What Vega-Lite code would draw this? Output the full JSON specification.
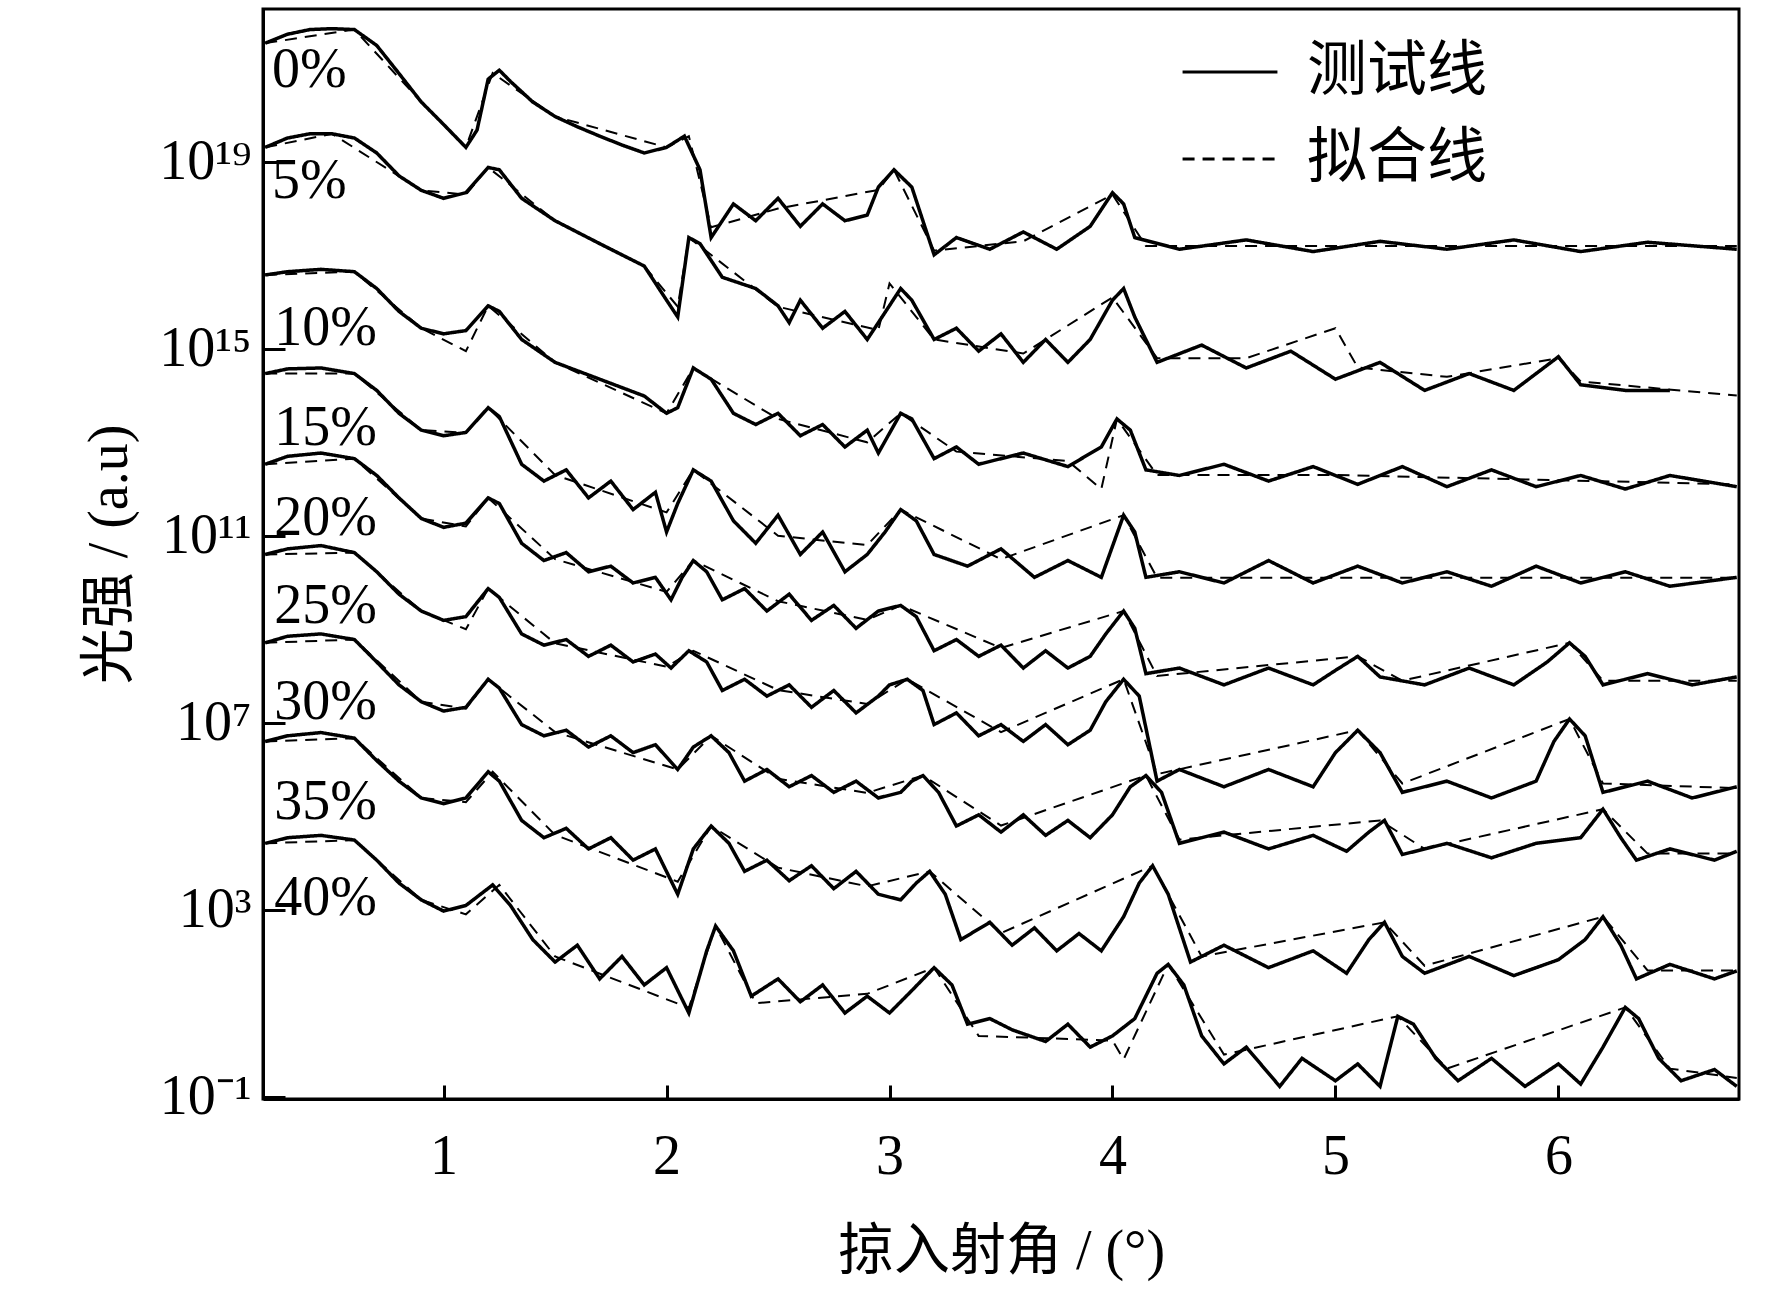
{
  "$schema": "https://vega.github.io/schema/vega-lite/v6.json",
  "width": 1476,
  "height": 1090,
  "autosize": "none",
  "padding": {"left": 263, "top": 9, "right": 33, "bottom": 200},
  "background": "white",
  "datasets": {
    "m": [
      {"c":0,"x":0.2,"e":21.54},{"c":0,"x":0.3,"e":21.73},{"c":0,"x":0.4,"e":21.83},{"c":0,"x":0.5,"e":21.85},{"c":0,"x":0.6,"e":21.83},{"c":0,"x":0.7,"e":21.49},{"c":0,"x":0.8,"e":20.89},{"c":0,"x":0.9,"e":20.28},{"c":0,"x":1.0,"e":19.8},{"c":0,"x":1.1,"e":19.31},{"c":0,"x":1.15,"e":19.68},{"c":0,"x":1.2,"e":20.77},{"c":0,"x":1.25,"e":20.96},{"c":0,"x":1.3,"e":20.72},{"c":0,"x":1.4,"e":20.28},{"c":0,"x":1.5,"e":19.97},{"c":0,"x":1.6,"e":19.75},{"c":0,"x":1.7,"e":19.55},{"c":0,"x":1.8,"e":19.36},{"c":0,"x":1.9,"e":19.19},{"c":0,"x":2.0,"e":19.31},{"c":0,"x":2.08,"e":19.55},{"c":0,"x":2.15,"e":18.83},{"c":0,"x":2.2,"e":17.38},{"c":0,"x":2.3,"e":18.1},{"c":0,"x":2.4,"e":17.74},{"c":0,"x":2.5,"e":18.22},{"c":0,"x":2.6,"e":17.62},{"c":0,"x":2.7,"e":18.1},{"c":0,"x":2.8,"e":17.74},{"c":0,"x":2.9,"e":17.86},{"c":0,"x":2.95,"e":18.46},{"c":0,"x":3.02,"e":18.83},{"c":0,"x":3.1,"e":18.46},{"c":0,"x":3.2,"e":17.01},{"c":0,"x":3.3,"e":17.38},{"c":0,"x":3.45,"e":17.13},{"c":0,"x":3.6,"e":17.5},{"c":0,"x":3.75,"e":17.13},{"c":0,"x":3.9,"e":17.62},{"c":0,"x":4.0,"e":18.34},{"c":0,"x":4.05,"e":18.1},{"c":0,"x":4.1,"e":17.38},{"c":0,"x":4.3,"e":17.13},{"c":0,"x":4.6,"e":17.33},{"c":0,"x":4.9,"e":17.08},{"c":0,"x":5.2,"e":17.3},{"c":0,"x":5.5,"e":17.13},{"c":0,"x":5.8,"e":17.33},{"c":0,"x":6.1,"e":17.08},{"c":0,"x":6.4,"e":17.28},{"c":0,"x":6.8,"e":17.13},

      {"c":5,"x":0.2,"e":19.31},{"c":5,"x":0.3,"e":19.51},{"c":5,"x":0.4,"e":19.6},{"c":5,"x":0.5,"e":19.6},{"c":5,"x":0.6,"e":19.51},{"c":5,"x":0.7,"e":19.19},{"c":5,"x":0.8,"e":18.7},{"c":5,"x":0.9,"e":18.39},{"c":5,"x":1.0,"e":18.22},{"c":5,"x":1.1,"e":18.34},{"c":5,"x":1.2,"e":18.88},{"c":5,"x":1.25,"e":18.83},{"c":5,"x":1.35,"e":18.22},{"c":5,"x":1.5,"e":17.74},{"c":5,"x":1.7,"e":17.25},{"c":5,"x":1.9,"e":16.77},{"c":5,"x":2.0,"e":16.04},{"c":5,"x":2.05,"e":15.68},{"c":5,"x":2.1,"e":17.38},{"c":5,"x":2.15,"e":17.25},{"c":5,"x":2.25,"e":16.53},{"c":5,"x":2.4,"e":16.29},{"c":5,"x":2.5,"e":15.92},{"c":5,"x":2.55,"e":15.56},{"c":5,"x":2.6,"e":16.04},{"c":5,"x":2.7,"e":15.44},{"c":5,"x":2.8,"e":15.8},{"c":5,"x":2.9,"e":15.2},{"c":5,"x":2.95,"e":15.56},{"c":5,"x":3.05,"e":16.29},{"c":5,"x":3.1,"e":16.04},{"c":5,"x":3.2,"e":15.2},{"c":5,"x":3.3,"e":15.44},{"c":5,"x":3.4,"e":14.95},{"c":5,"x":3.5,"e":15.32},{"c":5,"x":3.6,"e":14.71},{"c":5,"x":3.7,"e":15.2},{"c":5,"x":3.8,"e":14.71},{"c":5,"x":3.9,"e":15.2},{"c":5,"x":4.0,"e":16.04},{"c":5,"x":4.05,"e":16.29},{"c":5,"x":4.1,"e":15.68},{"c":5,"x":4.2,"e":14.71},{"c":5,"x":4.4,"e":15.08},{"c":5,"x":4.6,"e":14.59},{"c":5,"x":4.8,"e":14.95},{"c":5,"x":5.0,"e":14.35},{"c":5,"x":5.2,"e":14.71},{"c":5,"x":5.4,"e":14.11},{"c":5,"x":5.6,"e":14.47},{"c":5,"x":5.8,"e":14.11},{"c":5,"x":6.0,"e":14.83},{"c":5,"x":6.1,"e":14.23},{"c":5,"x":6.3,"e":14.11},{"c":5,"x":6.5,"e":14.11},

      {"c":10,"x":0.2,"e":16.58},{"c":10,"x":0.3,"e":16.65},{"c":10,"x":0.45,"e":16.7},{"c":10,"x":0.6,"e":16.65},{"c":10,"x":0.7,"e":16.29},{"c":10,"x":0.8,"e":15.8},{"c":10,"x":0.9,"e":15.44},{"c":10,"x":1.0,"e":15.32},{"c":10,"x":1.1,"e":15.39},{"c":10,"x":1.2,"e":15.92},{"c":10,"x":1.25,"e":15.8},{"c":10,"x":1.35,"e":15.2},{"c":10,"x":1.5,"e":14.71},{"c":10,"x":1.7,"e":14.35},{"c":10,"x":1.9,"e":13.99},{"c":10,"x":2.0,"e":13.62},{"c":10,"x":2.05,"e":13.74},{"c":10,"x":2.12,"e":14.59},{"c":10,"x":2.2,"e":14.35},{"c":10,"x":2.3,"e":13.62},{"c":10,"x":2.4,"e":13.38},{"c":10,"x":2.5,"e":13.62},{"c":10,"x":2.6,"e":13.14},{"c":10,"x":2.7,"e":13.38},{"c":10,"x":2.8,"e":12.9},{"c":10,"x":2.9,"e":13.26},{"c":10,"x":2.95,"e":12.77},{"c":10,"x":3.05,"e":13.62},{"c":10,"x":3.1,"e":13.5},{"c":10,"x":3.2,"e":12.65},{"c":10,"x":3.3,"e":12.9},{"c":10,"x":3.4,"e":12.53},{"c":10,"x":3.6,"e":12.77},{"c":10,"x":3.8,"e":12.48},{"c":10,"x":3.95,"e":12.9},{"c":10,"x":4.02,"e":13.5},{"c":10,"x":4.08,"e":13.26},{"c":10,"x":4.15,"e":12.41},{"c":10,"x":4.3,"e":12.29},{"c":10,"x":4.5,"e":12.53},{"c":10,"x":4.7,"e":12.17},{"c":10,"x":4.9,"e":12.48},{"c":10,"x":5.1,"e":12.1},{"c":10,"x":5.3,"e":12.48},{"c":10,"x":5.5,"e":12.05},{"c":10,"x":5.7,"e":12.41},{"c":10,"x":5.9,"e":12.05},{"c":10,"x":6.1,"e":12.29},{"c":10,"x":6.3,"e":12.0},{"c":10,"x":6.5,"e":12.29},{"c":10,"x":6.8,"e":12.05},

      {"c":15,"x":0.2,"e":14.47},{"c":15,"x":0.3,"e":14.57},{"c":15,"x":0.45,"e":14.59},{"c":15,"x":0.6,"e":14.47},{"c":15,"x":0.7,"e":14.11},{"c":15,"x":0.8,"e":13.62},{"c":15,"x":0.9,"e":13.26},{"c":15,"x":1.0,"e":13.14},{"c":15,"x":1.1,"e":13.21},{"c":15,"x":1.2,"e":13.74},{"c":15,"x":1.25,"e":13.55},{"c":15,"x":1.35,"e":12.53},{"c":15,"x":1.45,"e":12.17},{"c":15,"x":1.55,"e":12.41},{"c":15,"x":1.65,"e":11.81},{"c":15,"x":1.75,"e":12.17},{"c":15,"x":1.85,"e":11.56},{"c":15,"x":1.95,"e":11.93},{"c":15,"x":2.0,"e":11.08},{"c":15,"x":2.05,"e":11.69},{"c":15,"x":2.12,"e":12.41},{"c":15,"x":2.2,"e":12.17},{"c":15,"x":2.3,"e":11.32},{"c":15,"x":2.4,"e":10.84},{"c":15,"x":2.5,"e":11.44},{"c":15,"x":2.6,"e":10.6},{"c":15,"x":2.7,"e":11.08},{"c":15,"x":2.8,"e":10.23},{"c":15,"x":2.9,"e":10.6},{"c":15,"x":2.98,"e":11.08},{"c":15,"x":3.05,"e":11.56},{"c":15,"x":3.12,"e":11.32},{"c":15,"x":3.2,"e":10.6},{"c":15,"x":3.35,"e":10.35},{"c":15,"x":3.5,"e":10.72},{"c":15,"x":3.65,"e":10.11},{"c":15,"x":3.8,"e":10.47},{"c":15,"x":3.95,"e":10.11},{"c":15,"x":4.05,"e":11.44},{"c":15,"x":4.1,"e":11.08},{"c":15,"x":4.15,"e":10.11},{"c":15,"x":4.3,"e":10.23},{"c":15,"x":4.5,"e":9.99},{"c":15,"x":4.7,"e":10.47},{"c":15,"x":4.9,"e":9.99},{"c":15,"x":5.1,"e":10.35},{"c":15,"x":5.3,"e":9.99},{"c":15,"x":5.5,"e":10.23},{"c":15,"x":5.7,"e":9.92},{"c":15,"x":5.9,"e":10.35},{"c":15,"x":6.1,"e":9.99},{"c":15,"x":6.3,"e":10.23},{"c":15,"x":6.5,"e":9.92},{"c":15,"x":6.8,"e":10.11},

      {"c":20,"x":0.2,"e":12.53},{"c":20,"x":0.3,"e":12.7},{"c":20,"x":0.45,"e":12.77},{"c":20,"x":0.6,"e":12.65},{"c":20,"x":0.7,"e":12.29},{"c":20,"x":0.8,"e":11.81},{"c":20,"x":0.9,"e":11.37},{"c":20,"x":1.0,"e":11.18},{"c":20,"x":1.1,"e":11.27},{"c":20,"x":1.2,"e":11.81},{"c":20,"x":1.25,"e":11.69},{"c":20,"x":1.35,"e":10.84},{"c":20,"x":1.45,"e":10.47},{"c":20,"x":1.55,"e":10.64},{"c":20,"x":1.65,"e":10.23},{"c":20,"x":1.75,"e":10.35},{"c":20,"x":1.85,"e":9.99},{"c":20,"x":1.95,"e":10.11},{"c":20,"x":2.02,"e":9.63},{"c":20,"x":2.07,"e":10.11},{"c":20,"x":2.12,"e":10.47},{"c":20,"x":2.18,"e":10.23},{"c":20,"x":2.25,"e":9.63},{"c":20,"x":2.35,"e":9.87},{"c":20,"x":2.45,"e":9.39},{"c":20,"x":2.55,"e":9.75},{"c":20,"x":2.65,"e":9.19},{"c":20,"x":2.75,"e":9.51},{"c":20,"x":2.85,"e":9.02},{"c":20,"x":2.95,"e":9.39},{"c":20,"x":3.05,"e":9.51},{"c":20,"x":3.12,"e":9.27},{"c":20,"x":3.2,"e":8.54},{"c":20,"x":3.3,"e":8.78},{"c":20,"x":3.4,"e":8.42},{"c":20,"x":3.5,"e":8.66},{"c":20,"x":3.6,"e":8.17},{"c":20,"x":3.7,"e":8.54},{"c":20,"x":3.8,"e":8.17},{"c":20,"x":3.9,"e":8.42},{"c":20,"x":3.97,"e":8.9},{"c":20,"x":4.05,"e":9.39},{"c":20,"x":4.1,"e":9.02},{"c":20,"x":4.15,"e":8.05},{"c":20,"x":4.3,"e":8.17},{"c":20,"x":4.5,"e":7.81},{"c":20,"x":4.7,"e":8.17},{"c":20,"x":4.9,"e":7.81},{"c":20,"x":5.0,"e":8.12},{"c":20,"x":5.1,"e":8.42},{"c":20,"x":5.2,"e":7.98},{"c":20,"x":5.4,"e":7.81},{"c":20,"x":5.6,"e":8.17},{"c":20,"x":5.8,"e":7.81},{"c":20,"x":5.95,"e":8.3},{"c":20,"x":6.05,"e":8.71},{"c":20,"x":6.12,"e":8.42},{"c":20,"x":6.2,"e":7.81},{"c":20,"x":6.4,"e":8.05},{"c":20,"x":6.6,"e":7.81},{"c":20,"x":6.8,"e":7.98},

      {"c":25,"x":0.2,"e":10.6},{"c":25,"x":0.3,"e":10.72},{"c":25,"x":0.45,"e":10.79},{"c":25,"x":0.6,"e":10.64},{"c":25,"x":0.7,"e":10.23},{"c":25,"x":0.8,"e":9.75},{"c":25,"x":0.9,"e":9.39},{"c":25,"x":1.0,"e":9.19},{"c":25,"x":1.1,"e":9.27},{"c":25,"x":1.2,"e":9.87},{"c":25,"x":1.25,"e":9.68},{"c":25,"x":1.35,"e":8.9},{"c":25,"x":1.45,"e":8.66},{"c":25,"x":1.55,"e":8.78},{"c":25,"x":1.65,"e":8.42},{"c":25,"x":1.75,"e":8.66},{"c":25,"x":1.85,"e":8.3},{"c":25,"x":1.95,"e":8.47},{"c":25,"x":2.02,"e":8.17},{"c":25,"x":2.1,"e":8.54},{"c":25,"x":2.18,"e":8.3},{"c":25,"x":2.25,"e":7.69},{"c":25,"x":2.35,"e":7.93},{"c":25,"x":2.45,"e":7.57},{"c":25,"x":2.55,"e":7.81},{"c":25,"x":2.65,"e":7.33},{"c":25,"x":2.75,"e":7.69},{"c":25,"x":2.85,"e":7.21},{"c":25,"x":2.95,"e":7.57},{"c":25,"x":3.0,"e":7.81},{"c":25,"x":3.08,"e":7.93},{"c":25,"x":3.15,"e":7.69},{"c":25,"x":3.2,"e":6.96},{"c":25,"x":3.3,"e":7.21},{"c":25,"x":3.4,"e":6.72},{"c":25,"x":3.5,"e":6.96},{"c":25,"x":3.6,"e":6.6},{"c":25,"x":3.7,"e":6.96},{"c":25,"x":3.8,"e":6.53},{"c":25,"x":3.9,"e":6.84},{"c":25,"x":3.97,"e":7.45},{"c":25,"x":4.05,"e":7.93},{"c":25,"x":4.12,"e":7.57},{"c":25,"x":4.2,"e":5.75},{"c":25,"x":4.3,"e":6.0},{"c":25,"x":4.5,"e":5.63},{"c":25,"x":4.7,"e":6.0},{"c":25,"x":4.9,"e":5.63},{"c":25,"x":5.0,"e":6.36},{"c":25,"x":5.1,"e":6.84},{"c":25,"x":5.2,"e":6.36},{"c":25,"x":5.3,"e":5.51},{"c":25,"x":5.5,"e":5.75},{"c":25,"x":5.7,"e":5.39},{"c":25,"x":5.9,"e":5.75},{"c":25,"x":5.98,"e":6.6},{"c":25,"x":6.05,"e":7.08},{"c":25,"x":6.12,"e":6.72},{"c":25,"x":6.2,"e":5.51},{"c":25,"x":6.4,"e":5.75},{"c":25,"x":6.6,"e":5.39},{"c":25,"x":6.8,"e":5.63},

      {"c":30,"x":0.2,"e":8.71},{"c":30,"x":0.3,"e":8.85},{"c":30,"x":0.45,"e":8.9},{"c":30,"x":0.6,"e":8.78},{"c":30,"x":0.7,"e":8.3},{"c":30,"x":0.8,"e":7.81},{"c":30,"x":0.9,"e":7.45},{"c":30,"x":1.0,"e":7.25},{"c":30,"x":1.1,"e":7.33},{"c":30,"x":1.2,"e":7.93},{"c":30,"x":1.25,"e":7.74},{"c":30,"x":1.35,"e":6.96},{"c":30,"x":1.45,"e":6.72},{"c":30,"x":1.55,"e":6.84},{"c":30,"x":1.65,"e":6.48},{"c":30,"x":1.75,"e":6.72},{"c":30,"x":1.85,"e":6.36},{"c":30,"x":1.95,"e":6.53},{"c":30,"x":2.05,"e":6.0},{"c":30,"x":2.12,"e":6.48},{"c":30,"x":2.2,"e":6.72},{"c":30,"x":2.28,"e":6.36},{"c":30,"x":2.35,"e":5.75},{"c":30,"x":2.45,"e":6.0},{"c":30,"x":2.55,"e":5.63},{"c":30,"x":2.65,"e":5.87},{"c":30,"x":2.75,"e":5.51},{"c":30,"x":2.85,"e":5.75},{"c":30,"x":2.95,"e":5.39},{"c":30,"x":3.05,"e":5.51},{"c":30,"x":3.1,"e":5.75},{"c":30,"x":3.15,"e":5.87},{"c":30,"x":3.22,"e":5.51},{"c":30,"x":3.3,"e":4.79},{"c":30,"x":3.4,"e":5.03},{"c":30,"x":3.5,"e":4.66},{"c":30,"x":3.6,"e":5.03},{"c":30,"x":3.7,"e":4.59},{"c":30,"x":3.8,"e":4.91},{"c":30,"x":3.9,"e":4.54},{"c":30,"x":4.0,"e":5.03},{"c":30,"x":4.08,"e":5.63},{"c":30,"x":4.15,"e":5.87},{"c":30,"x":4.22,"e":5.51},{"c":30,"x":4.3,"e":4.42},{"c":30,"x":4.5,"e":4.66},{"c":30,"x":4.7,"e":4.3},{"c":30,"x":4.9,"e":4.59},{"c":30,"x":5.05,"e":4.25},{"c":30,"x":5.15,"e":4.66},{"c":30,"x":5.22,"e":4.91},{"c":30,"x":5.3,"e":4.18},{"c":30,"x":5.5,"e":4.42},{"c":30,"x":5.7,"e":4.11},{"c":30,"x":5.9,"e":4.42},{"c":30,"x":6.1,"e":4.54},{"c":30,"x":6.2,"e":5.15},{"c":30,"x":6.28,"e":4.54},{"c":30,"x":6.35,"e":4.06},{"c":30,"x":6.5,"e":4.3},{"c":30,"x":6.7,"e":4.06},{"c":30,"x":6.8,"e":4.25},

      {"c":35,"x":0.2,"e":6.6},{"c":35,"x":0.3,"e":6.72},{"c":35,"x":0.45,"e":6.79},{"c":35,"x":0.6,"e":6.67},{"c":35,"x":0.7,"e":6.19},{"c":35,"x":0.8,"e":5.75},{"c":35,"x":0.9,"e":5.39},{"c":35,"x":1.0,"e":5.27},{"c":35,"x":1.1,"e":5.39},{"c":35,"x":1.2,"e":5.95},{"c":35,"x":1.25,"e":5.75},{"c":35,"x":1.35,"e":4.91},{"c":35,"x":1.45,"e":4.54},{"c":35,"x":1.55,"e":4.74},{"c":35,"x":1.65,"e":4.3},{"c":35,"x":1.75,"e":4.54},{"c":35,"x":1.85,"e":4.06},{"c":35,"x":1.95,"e":4.3},{"c":35,"x":2.05,"e":3.33},{"c":35,"x":2.12,"e":4.3},{"c":35,"x":2.2,"e":4.79},{"c":35,"x":2.28,"e":4.42},{"c":35,"x":2.35,"e":3.82},{"c":35,"x":2.45,"e":4.06},{"c":35,"x":2.55,"e":3.62},{"c":35,"x":2.65,"e":3.94},{"c":35,"x":2.75,"e":3.45},{"c":35,"x":2.85,"e":3.82},{"c":35,"x":2.95,"e":3.33},{"c":35,"x":3.05,"e":3.21},{"c":35,"x":3.12,"e":3.57},{"c":35,"x":3.18,"e":3.82},{"c":35,"x":3.25,"e":3.33},{"c":35,"x":3.32,"e":2.36},{"c":35,"x":3.45,"e":2.73},{"c":35,"x":3.55,"e":2.24},{"c":35,"x":3.65,"e":2.61},{"c":35,"x":3.75,"e":2.12},{"c":35,"x":3.85,"e":2.49},{"c":35,"x":3.95,"e":2.12},{"c":35,"x":4.05,"e":2.85},{"c":35,"x":4.12,"e":3.57},{"c":35,"x":4.18,"e":3.94},{"c":35,"x":4.25,"e":3.33},{"c":35,"x":4.35,"e":1.88},{"c":35,"x":4.5,"e":2.24},{"c":35,"x":4.7,"e":1.76},{"c":35,"x":4.9,"e":2.12},{"c":35,"x":5.05,"e":1.64},{"c":35,"x":5.15,"e":2.36},{"c":35,"x":5.22,"e":2.73},{"c":35,"x":5.3,"e":2.0},{"c":35,"x":5.4,"e":1.64},{"c":35,"x":5.6,"e":2.0},{"c":35,"x":5.8,"e":1.59},{"c":35,"x":6.0,"e":1.93},{"c":35,"x":6.12,"e":2.36},{"c":35,"x":6.2,"e":2.85},{"c":35,"x":6.28,"e":2.24},{"c":35,"x":6.35,"e":1.52},{"c":35,"x":6.5,"e":1.83},{"c":35,"x":6.7,"e":1.52},{"c":35,"x":6.8,"e":1.69},

      {"c":40,"x":0.2,"e":4.42},{"c":40,"x":0.3,"e":4.54},{"c":40,"x":0.45,"e":4.59},{"c":40,"x":0.6,"e":4.49},{"c":40,"x":0.7,"e":4.06},{"c":40,"x":0.8,"e":3.57},{"c":40,"x":0.9,"e":3.21},{"c":40,"x":1.0,"e":2.97},{"c":40,"x":1.1,"e":3.09},{"c":40,"x":1.22,"e":3.53},{"c":40,"x":1.3,"e":3.09},{"c":40,"x":1.4,"e":2.36},{"c":40,"x":1.5,"e":1.88},{"c":40,"x":1.6,"e":2.24},{"c":40,"x":1.7,"e":1.52},{"c":40,"x":1.8,"e":2.0},{"c":40,"x":1.9,"e":1.39},{"c":40,"x":2.0,"e":1.76},{"c":40,"x":2.1,"e":0.79},{"c":40,"x":2.18,"e":2.12},{"c":40,"x":2.22,"e":2.65},{"c":40,"x":2.3,"e":2.12},{"c":40,"x":2.38,"e":1.15},{"c":40,"x":2.5,"e":1.52},{"c":40,"x":2.6,"e":1.03},{"c":40,"x":2.7,"e":1.39},{"c":40,"x":2.8,"e":0.79},{"c":40,"x":2.9,"e":1.15},{"c":40,"x":3.0,"e":0.79},{"c":40,"x":3.1,"e":1.27},{"c":40,"x":3.2,"e":1.76},{"c":40,"x":3.28,"e":1.39},{"c":40,"x":3.35,"e":0.55},{"c":40,"x":3.45,"e":0.67},{"c":40,"x":3.55,"e":0.43},{"c":40,"x":3.7,"e":0.18},{"c":40,"x":3.8,"e":0.55},{"c":40,"x":3.9,"e":0.06},{"c":40,"x":4.0,"e":0.3},{"c":40,"x":4.1,"e":0.67},{"c":40,"x":4.2,"e":1.64},{"c":40,"x":4.25,"e":1.83},{"c":40,"x":4.32,"e":1.39},{"c":40,"x":4.4,"e":0.3},{"c":40,"x":4.5,"e":-0.3},{"c":40,"x":4.6,"e":0.06},{"c":40,"x":4.75,"e":-0.78},{"c":40,"x":4.85,"e":-0.18},{"c":40,"x":5.0,"e":-0.66},{"c":40,"x":5.1,"e":-0.3},{"c":40,"x":5.2,"e":-0.78},{"c":40,"x":5.28,"e":0.72},{"c":40,"x":5.35,"e":0.55},{"c":40,"x":5.45,"e":-0.18},{"c":40,"x":5.55,"e":-0.66},{"c":40,"x":5.7,"e":-0.18},{"c":40,"x":5.85,"e":-0.78},{"c":40,"x":6.0,"e":-0.3},{"c":40,"x":6.1,"e":-0.73},{"c":40,"x":6.2,"e":0.06},{"c":40,"x":6.3,"e":0.91},{"c":40,"x":6.36,"e":0.67},{"c":40,"x":6.45,"e":-0.18},{"c":40,"x":6.55,"e":-0.66},{"c":40,"x":6.7,"e":-0.42},{"c":40,"x":6.8,"e":-0.78}
    ],
    "f": [
      {"c":0,"x":0.2,"e":21.54},{"c":0,"x":0.6,"e":21.83},{"c":0,"x":0.9,"e":20.28},{"c":0,"x":1.1,"e":19.31},{"c":0,"x":1.22,"e":20.9},{"c":0,"x":1.5,"e":19.97},{"c":0,"x":2.0,"e":19.31},{"c":0,"x":2.1,"e":19.55},{"c":0,"x":2.2,"e":17.6},{"c":0,"x":2.5,"e":18.0},{"c":0,"x":2.95,"e":18.4},{"c":0,"x":3.02,"e":18.83},{"c":0,"x":3.2,"e":17.1},{"c":0,"x":3.6,"e":17.3},{"c":0,"x":4.0,"e":18.3},{"c":0,"x":4.15,"e":17.2},{"c":0,"x":5.0,"e":17.2},{"c":0,"x":6.8,"e":17.2},
      {"c":5,"x":0.2,"e":19.31},{"c":5,"x":0.5,"e":19.6},{"c":5,"x":0.9,"e":18.39},{"c":5,"x":1.1,"e":18.3},{"c":5,"x":1.2,"e":18.88},{"c":5,"x":1.5,"e":17.74},{"c":5,"x":1.9,"e":16.77},{"c":5,"x":2.05,"e":15.9},{"c":5,"x":2.1,"e":17.38},{"c":5,"x":2.5,"e":15.9},{"c":5,"x":2.95,"e":15.4},{"c":5,"x":3.0,"e":16.4},{"c":5,"x":3.2,"e":15.2},{"c":5,"x":3.6,"e":14.9},{"c":5,"x":4.0,"e":16.1},{"c":5,"x":4.2,"e":14.8},{"c":5,"x":4.6,"e":14.8},{"c":5,"x":5.0,"e":15.44},{"c":5,"x":5.1,"e":14.6},{"c":5,"x":5.5,"e":14.4},{"c":5,"x":6.0,"e":14.8},{"c":5,"x":6.1,"e":14.3},{"c":5,"x":6.8,"e":14.0},
      {"c":10,"x":0.2,"e":16.58},{"c":10,"x":0.6,"e":16.65},{"c":10,"x":0.9,"e":15.44},{"c":10,"x":1.1,"e":14.95},{"c":10,"x":1.2,"e":15.92},{"c":10,"x":1.5,"e":14.71},{"c":10,"x":2.0,"e":13.62},{"c":10,"x":2.12,"e":14.59},{"c":10,"x":2.5,"e":13.5},{"c":10,"x":2.9,"e":13.0},{"c":10,"x":3.05,"e":13.62},{"c":10,"x":3.3,"e":12.8},{"c":10,"x":3.8,"e":12.6},{"c":10,"x":3.95,"e":12.0},{"c":10,"x":4.02,"e":13.5},{"c":10,"x":4.2,"e":12.3},{"c":10,"x":5.0,"e":12.3},{"c":10,"x":6.8,"e":12.1},
      {"c":15,"x":0.2,"e":14.47},{"c":15,"x":0.6,"e":14.47},{"c":15,"x":0.9,"e":13.26},{"c":15,"x":1.1,"e":13.2},{"c":15,"x":1.2,"e":13.74},{"c":15,"x":1.5,"e":12.3},{"c":15,"x":2.0,"e":11.5},{"c":15,"x":2.12,"e":12.41},{"c":15,"x":2.5,"e":11.0},{"c":15,"x":2.9,"e":10.8},{"c":15,"x":3.05,"e":11.56},{"c":15,"x":3.5,"e":10.5},{"c":15,"x":4.05,"e":11.44},{"c":15,"x":4.2,"e":10.1},{"c":15,"x":6.8,"e":10.1},
      {"c":20,"x":0.2,"e":12.53},{"c":20,"x":0.6,"e":12.65},{"c":20,"x":0.9,"e":11.37},{"c":20,"x":1.1,"e":11.2},{"c":20,"x":1.2,"e":11.81},{"c":20,"x":1.5,"e":10.5},{"c":20,"x":2.0,"e":9.8},{"c":20,"x":2.12,"e":10.47},{"c":20,"x":2.5,"e":9.6},{"c":20,"x":2.9,"e":9.2},{"c":20,"x":3.05,"e":9.51},{"c":20,"x":3.5,"e":8.6},{"c":20,"x":4.05,"e":9.39},{"c":20,"x":4.2,"e":8.0},{"c":20,"x":5.1,"e":8.42},{"c":20,"x":5.3,"e":7.9},{"c":20,"x":6.05,"e":8.71},{"c":20,"x":6.2,"e":7.9},{"c":20,"x":6.8,"e":7.9},
      {"c":25,"x":0.2,"e":10.6},{"c":25,"x":0.6,"e":10.64},{"c":25,"x":0.9,"e":9.39},{"c":25,"x":1.1,"e":9.0},{"c":25,"x":1.2,"e":9.87},{"c":25,"x":1.5,"e":8.7},{"c":25,"x":2.0,"e":8.2},{"c":25,"x":2.12,"e":8.54},{"c":25,"x":2.5,"e":7.7},{"c":25,"x":2.9,"e":7.4},{"c":25,"x":3.08,"e":7.93},{"c":25,"x":3.5,"e":6.8},{"c":25,"x":4.05,"e":7.93},{"c":25,"x":4.2,"e":5.9},{"c":25,"x":5.1,"e":6.84},{"c":25,"x":5.3,"e":5.7},{"c":25,"x":6.05,"e":7.08},{"c":25,"x":6.2,"e":5.7},{"c":25,"x":6.8,"e":5.6},
      {"c":30,"x":0.2,"e":8.71},{"c":30,"x":0.6,"e":8.78},{"c":30,"x":0.9,"e":7.45},{"c":30,"x":1.1,"e":7.3},{"c":30,"x":1.2,"e":7.93},{"c":30,"x":1.5,"e":6.8},{"c":30,"x":2.05,"e":6.0},{"c":30,"x":2.2,"e":6.72},{"c":30,"x":2.5,"e":5.8},{"c":30,"x":2.9,"e":5.5},{"c":30,"x":3.15,"e":5.87},{"c":30,"x":3.5,"e":4.8},{"c":30,"x":4.15,"e":5.87},{"c":30,"x":4.3,"e":4.5},{"c":30,"x":5.2,"e":4.91},{"c":30,"x":5.4,"e":4.3},{"c":30,"x":6.2,"e":5.15},{"c":30,"x":6.4,"e":4.2},{"c":30,"x":6.8,"e":4.2},
      {"c":35,"x":0.2,"e":6.6},{"c":35,"x":0.6,"e":6.67},{"c":35,"x":0.9,"e":5.39},{"c":35,"x":1.1,"e":5.3},{"c":35,"x":1.22,"e":5.95},{"c":35,"x":1.5,"e":4.6},{"c":35,"x":2.05,"e":3.6},{"c":35,"x":2.2,"e":4.79},{"c":35,"x":2.5,"e":3.9},{"c":35,"x":2.9,"e":3.5},{"c":35,"x":3.18,"e":3.82},{"c":35,"x":3.5,"e":2.5},{"c":35,"x":4.18,"e":3.94},{"c":35,"x":4.4,"e":2.0},{"c":35,"x":5.22,"e":2.73},{"c":35,"x":5.4,"e":1.8},{"c":35,"x":6.2,"e":2.85},{"c":35,"x":6.4,"e":1.7},{"c":35,"x":6.8,"e":1.7},
      {"c":40,"x":0.2,"e":4.42},{"c":40,"x":0.6,"e":4.49},{"c":40,"x":0.9,"e":3.21},{"c":40,"x":1.1,"e":2.9},{"c":40,"x":1.25,"e":3.53},{"c":40,"x":1.5,"e":2.0},{"c":40,"x":2.1,"e":0.9},{"c":40,"x":2.22,"e":2.65},{"c":40,"x":2.4,"e":1.0},{"c":40,"x":2.9,"e":1.2},{"c":40,"x":3.2,"e":1.76},{"c":40,"x":3.4,"e":0.3},{"c":40,"x":4.0,"e":0.2},{"c":40,"x":4.05,"e":-0.2},{"c":40,"x":4.25,"e":1.83},{"c":40,"x":4.5,"e":-0.1},{"c":40,"x":5.28,"e":0.72},{"c":40,"x":5.5,"e":-0.4},{"c":40,"x":6.3,"e":0.91},{"c":40,"x":6.5,"e":-0.4},{"c":40,"x":6.8,"e":-0.6}
    ],
    "lab": [
      {"t":"0%","x":0.23,"e":20.96},{"t":"5%","x":0.23,"e":18.59},{"t":"10%","x":0.24,"e":15.44},{"t":"15%","x":0.24,"e":13.31},{"t":"20%","x":0.24,"e":11.37},{"t":"25%","x":0.24,"e":9.5},{"t":"30%","x":0.24,"e":7.45},{"t":"35%","x":0.24,"e":5.3},{"t":"40%","x":0.24,"e":3.26}
    ]
  },
  "encoding": {
    "x": {
      "field": "x", "type": "quantitative",
      "scale": {"domain": [0.19, 6.81], "nice": false, "zero": false},
      "axis": {"values": [1, 2, 3, 4, 5, 6], "title": "掠入射角 / (°)", "grid": false, "tickSize": -14, "tickWidth": 3, "labelPadding": 44, "titlePadding": 40}
    },
    "y": {
      "field": "e", "type": "quantitative",
      "scale": {"domain": [-1.05, 22.27], "nice": false, "zero": false},
      "axis": {"values": [-1, 3, 7, 11, 15, 19], "title": "光强 / (a.u)", "grid": false, "tickSize": -22, "tickWidth": 3, "labelPadding": 34, "titlePadding": 20,
        "labelExpr": "datum.value == 19 ? '10¹⁹' : datum.value == 15 ? '10¹⁵' : datum.value == 11 ? '10¹¹' : datum.value == 7 ? '10⁷' : datum.value == 3 ? '10³' : '10⁻¹'"}
    }
  },
  "layer": [
    {
      "data": {"name": "f"},
      "mark": {"type": "line", "strokeDash": [12, 8], "strokeWidth": 2, "color": "black"},
      "encoding": {
        "detail": {"field": "c"},
        "strokeDash": {"datum": "拟合线", "type": "nominal", "scale": {"domain": ["测试线", "拟合线"], "range": [[1, 0], [12, 8]]},
          "legend": {"title": null, "orient": "none", "legendX": 918, "legendY": 14, "symbolType": "stroke", "symbolSize": 9000, "symbolStrokeWidth": 3, "symbolStrokeColor": "black", "labelFontSize": 60, "labelFont": "Noto Sans CJK SC", "labelOffset": 28, "rowPadding": 8, "labelLimit": 400}}
      }
    },
    {
      "data": {"name": "m"},
      "mark": {"type": "line", "strokeWidth": 3.5, "color": "black"},
      "encoding": {
        "detail": {"field": "c"},
        "strokeDash": {"datum": "测试线", "type": "nominal"}
      }
    },
    {
      "data": {"name": "lab"},
      "mark": {"type": "text", "align": "left", "baseline": "middle", "fontSize": 56, "font": "Liberation Serif", "color": "black"},
      "encoding": {"text": {"field": "t"}}
    }
  ],
  "config": {
    "view": {"stroke": "black", "strokeWidth": 3},
    "axis": {"domainColor": "black", "domainWidth": 3, "tickColor": "black", "labelColor": "black", "titleColor": "black",
      "labelFont": "Liberation Serif", "labelFontSize": 56, "titleFont": "Liberation Serif, Noto Sans CJK SC", "titleFontSize": 56, "titleFontWeight": "normal"}
  }
}
